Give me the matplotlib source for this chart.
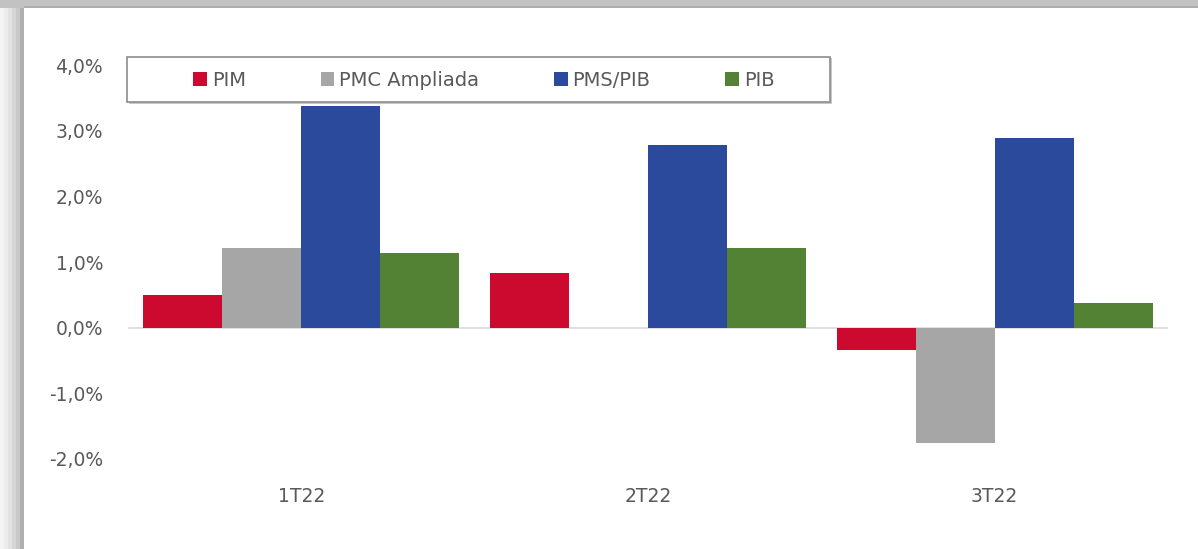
import numpy as np
import matplotlib
matplotlib.use("Agg")
import matplotlib.pyplot as plt
from matplotlib.patches import Rectangle
from matplotlib.ticker import FuncFormatter

# quarterly growth, % q/q
quarters = ["1T22", "2T22", "3T22"]
series = ["PIM", "PMC Ampliada", "PMS/PIB", "PIB"]
pim = [0.50, 0.83, -0.34]
pmc = [1.22, 0.0, -1.76]
pms = [3.37, 2.78, 2.89]
pib = [1.13, 1.22, 0.37]
colors = ["#cc0a2f", "#a6a6a6", "#2b4a9b", "#548235"]

plt.rcParams["font.family"] = ["DejaVu Sans"]
text_color = "#595959"

fig = plt.figure(figsize=(11.98, 5.49), dpi=100)
ax = fig.add_axes([128 / 1198, 90 / 549, 1040 / 1198, 394 / 549])

x = np.arange(len(quarters))
w = 0.228
for i, (vals, name) in enumerate(zip([pim, pmc, pms, pib], series)):
    ax.bar(x + (i - 1.5) * w, vals, w, color=colors[i], label=name, zorder=2)

ax.axhline(0, color="#d9d9d9", lw=1.2, zorder=1)
ax.set_xlim(-0.5, 2.5)
ax.set_ylim(-2, 4)
ax.set_yticks(np.arange(-2, 5, 1))
ax.yaxis.set_major_formatter(FuncFormatter(lambda v, p: f"{v:.1f}%".replace(".", ",")))
ax.set_xticks(x)
ax.set_xticklabels(quarters)
ax.tick_params(axis="y", length=0, pad=18, labelsize=13.5, labelcolor=text_color)
ax.tick_params(axis="x", length=0, pad=20, labelsize=13.5, labelcolor=text_color)
for s in ax.spines.values():
    s.set_visible(False)

# legend box (drawn over the plot area)
W, H = 1198, 549
def fx(px):
    return px / W
def fy(py):
    return 1 - py / H

fig.patches.append(Rectangle((fx(129), fy(104)), fx(703), 46 / H, transform=fig.transFigure,
                             facecolor="#c8c8c8", edgecolor="none", zorder=4))
fig.patches.append(Rectangle((fx(127), fy(102)), fx(703), 45 / H, transform=fig.transFigure,
                             facecolor="white", edgecolor="#8c8c8c", lw=1.2, zorder=5))
leg = fig.legend(loc="center", bbox_to_anchor=(fx(484), fy(80)), ncol=4, frameon=False,
                 fontsize=14, handlelength=0.7, handleheight=0.7, handletextpad=0.25,
                 columnspacing=3.85)
leg.set_zorder(6)
for t in leg.get_texts():
    t.set_color(text_color)

# shaded frame along the top and left edges
for i, c in enumerate(["#f4f4f4", "#ececec", "#e2e2e2", "#d6d6d6", "#c8c8c8", "#b0b0b0"]):
    fig.patches.append(Rectangle((fx(i * 4), 0), fx(4), 1 - 8 / H, transform=fig.transFigure,
                                 facecolor=c, edgecolor="none", zorder=0))
fig.patches.append(Rectangle((0, fy(8)), 1, 8 / H, transform=fig.transFigure,
                             facecolor="#c2c2c2", edgecolor="none", zorder=0))
fig.patches.append(Rectangle((fx(24), fy(8)), 1, 2 / H, transform=fig.transFigure,
                             facecolor="#acacac", edgecolor="none", zorder=0))

fig.savefig("out.png", dpi=100)
